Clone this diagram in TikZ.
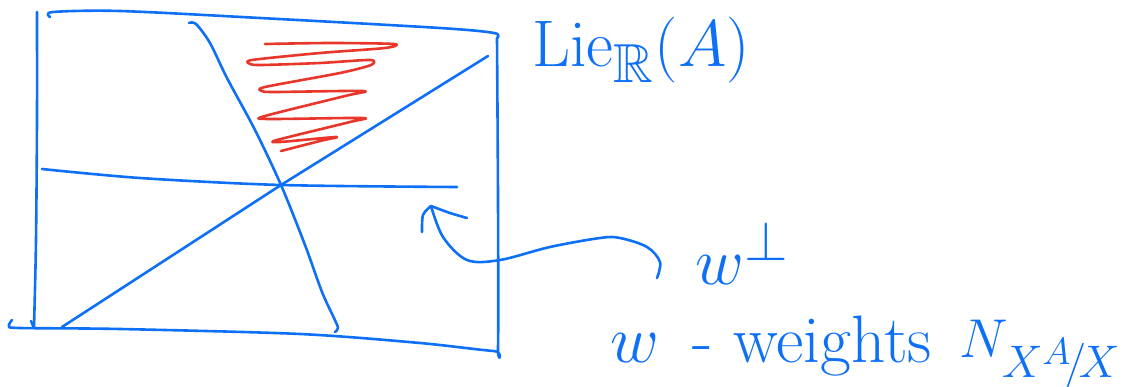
\documentclass[tikz,border=0pt]{standalone}
\usepackage{amssymb,amsmath}
\usepackage{tikz}
\definecolor{penblue}{RGB}{14,112,246}
\definecolor{penred}{RGB}{232,54,42}
\tikzset{
  pen/.style={penblue, line width=2.6pt, line cap=round, line join=round},
  scribble/.style={penred, line width=2.6pt, line cap=round, line join=round},
  handlabel/.style={penblue, inner sep=0pt, anchor=base west, font=\Huge}
}

\begin{document}
\begin{tikzpicture}[x=1pt, y=-1pt]
		\useasboundingbox (0,0) rectangle (1127,387);
		% frame: left side, top, right side and bottom
		\draw[pen] plot[smooth, tension=0.5] coordinates {(37,12) (37,120) (36,240) (34,328)};
		\draw[pen] (31,321) -- (34,328);
		\draw[pen] plot[smooth, tension=0.5] coordinates {(50,17) (53,12) (120,11) (260,18) (440,28) (494,33) (497,38)};
		\draw[pen] plot[smooth, tension=0.5] coordinates {(497,38) (498,200) (498,347) (494,351) (420,343) (300,334) (120,329) (20,328) (9,326) (12,320)};
		% three lines through the origin
		\coordinate (O) at (281,185);
		\draw[pen] plot[smooth, tension=0.5] coordinates {(42,169) (140,178) (O) (457,187)};
		\draw[pen] (62,327) -- (O) -- (488,56);
		\draw[pen] plot[smooth, tension=0.5] coordinates {(189,23) (196,24) (210,43) (227,78) (255,130) (O) (305,245) (322,292) (334,318) (338,328) (335,332)};
		% shaded chamber
		\draw[scribble] plot[smooth, tension=0.45] coordinates {(265,44) (330,43) (394,44) (385,48) (320,53) (252,60) (250,64) (262,65) (320,63) (370,60) (371,65) (340,73) (265,87) (262,91) (275,92) (363,91) (345,96) (265,116) (268,119) (362,118) (350,122) (277,140) (280,142) (336,137) (320,141) (281,151)};
		% pointer to the wall
		\draw[pen] plot[smooth, tension=0.55] coordinates {(657,278) (660,262) (647,247) (620,238) (600,238) (550,247) (500,260) (467,260) (443,237) (431,206)};
		\draw[pen] plot[smooth, tension=0.5] coordinates {(431,206) (423,215) (422,232)};
		\draw[pen] plot[smooth, tension=0.5] coordinates {(431,206) (450,213) (467,218)};
		% labels
		\node[handlabel, scale=2.65] (lie) at (532,67) {$\mathrm{Lie}_{\mathbb{R}}(A)$};
		\node[handlabel, scale=2.7] (wperp) at (695,285) {$w^{\perp}$};
		\node[handlabel, scale=2.7] (weights) at (610,362) {$w$\hspace{0.5em}-\hspace{0.3em}weights};
		\node[handlabel, scale=2.2, anchor=base east] (normal) at (1121,357) {$N_{X^A\!/\!X}$};
	\end{tikzpicture}
\end{document}
